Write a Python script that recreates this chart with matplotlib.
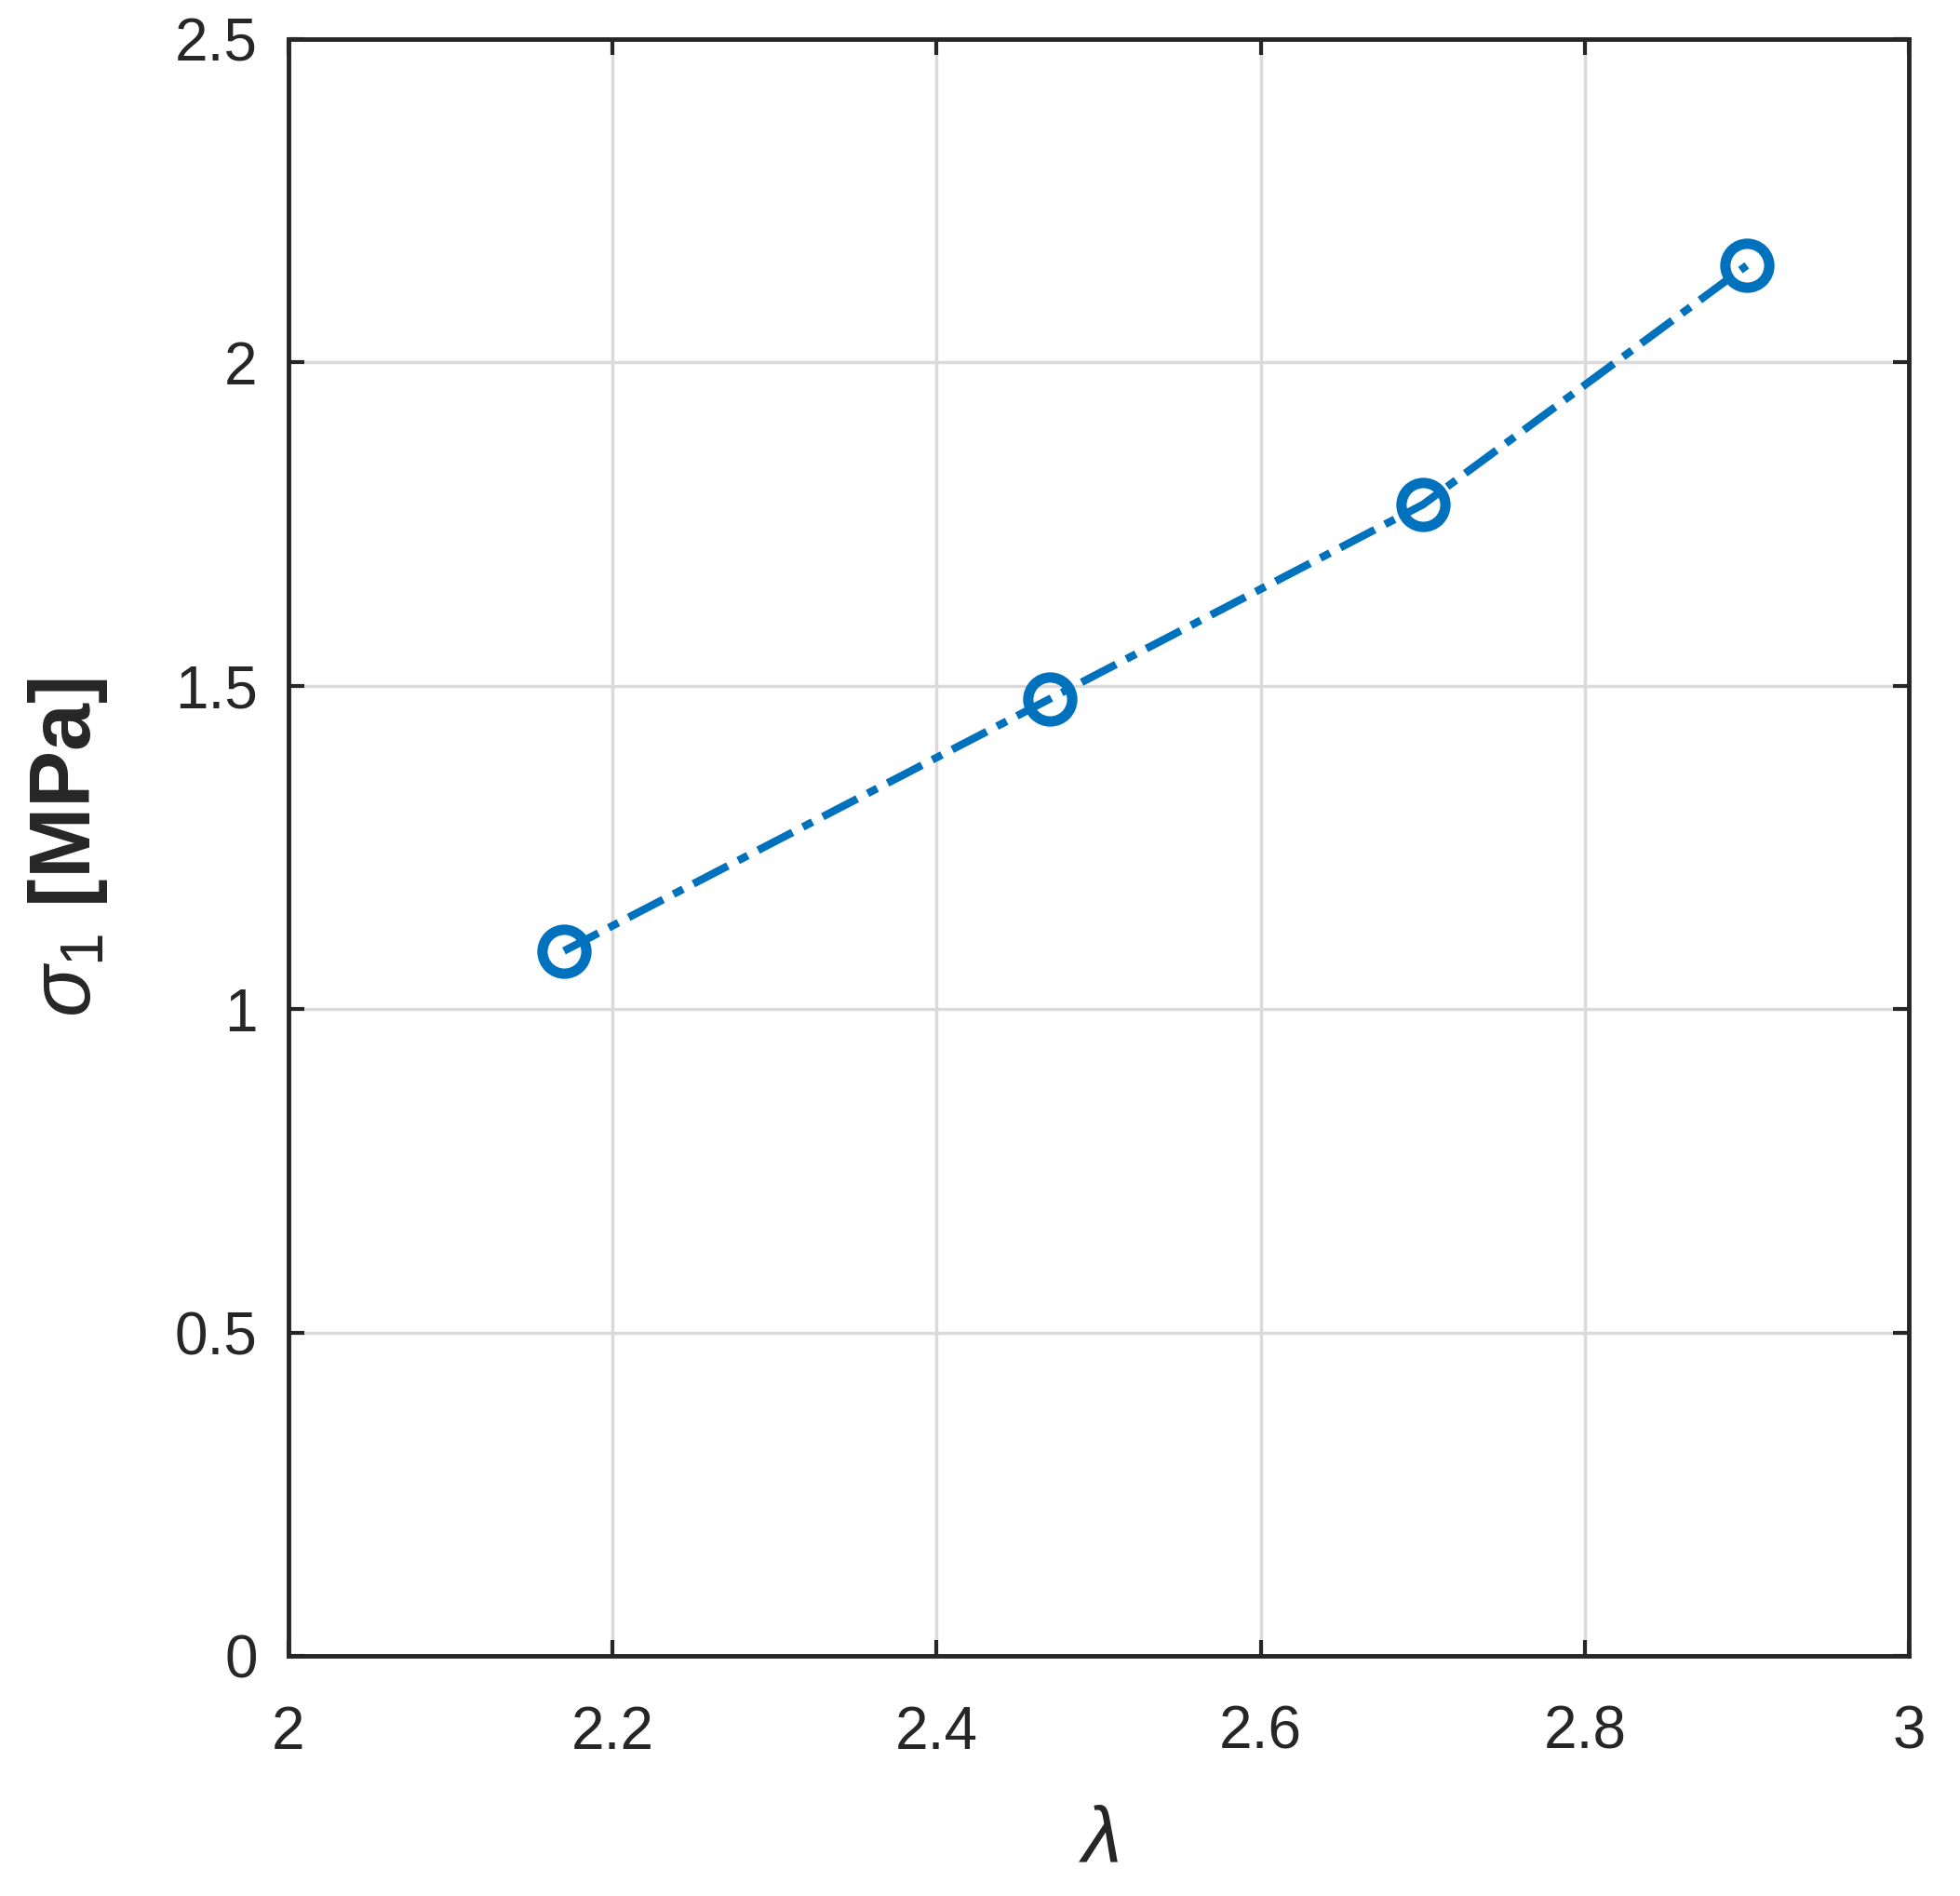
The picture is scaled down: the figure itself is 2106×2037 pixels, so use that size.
import matplotlib
matplotlib.use("Agg")
import matplotlib.pyplot as plt

# stretch ratio vs. principal stress
stretch = [2.17, 2.47, 2.70, 2.90]
sigma1 = [1.09, 1.48, 1.78, 2.15]

x_ticks = [2, 2.2, 2.4, 2.6, 2.8, 3]
x_tick_labels = ["2", "2.2", "2.4", "2.6", "2.8", "3"]
y_ticks = [0, 0.5, 1, 1.5, 2, 2.5]
y_tick_labels = ["0", "0.5", "1", "1.5", "2", "2.5"]

plt.rcParams['font.family'] = ['Liberation Sans', 'DejaVu Sans']
plt.rcParams['mathtext.fontset'] = 'custom'
plt.rcParams['mathtext.it'] = 'Liberation Sans:italic'
plt.rcParams['mathtext.rm'] = 'Liberation Sans'

fig = plt.figure(figsize=(21.06, 20.37), dpi=100)
ax = fig.add_axes([310 / 2106, 1 - 1779 / 2037, (2051 - 310) / 2106, (1779 - 42) / 2037])

ax.plot(stretch, sigma1, color='#0072BD', linewidth=6,
        linestyle=(0, (5.0, 1.5, 1.4, 1.5)),
        marker='o', markersize=34, markerfacecolor='none',
        markeredgewidth=8, markeredgecolor='#0072BD', zorder=3)

ax.set_xlim(2, 3)
ax.set_ylim(0, 2.5)
ax.set_xticks(x_ticks)
ax.set_xticklabels(x_tick_labels)
ax.set_yticks(y_ticks)
ax.set_yticklabels(y_tick_labels)

ax.grid(True, color='#dadada', linewidth=2.5)
ax.set_axisbelow(True)
for s in ax.spines.values():
    s.set_color('#262626')
    s.set_linewidth(3.5)
ax.tick_params(direction='in', length=12, width=3, colors='#262626',
               labelsize=46, top=True, right=True)
ax.tick_params(axis='x', pad=38)
ax.tick_params(axis='y', pad=24)

ax.set_xlabel(r'$\lambda$', fontsize=62, color='#262626', labelpad=34)
ax.set_ylabel(r'$\sigma_1$ [MPa]', fontsize=66, fontweight='bold',
              color='#262626', labelpad=50)

fig.savefig('out.png', dpi=100)
